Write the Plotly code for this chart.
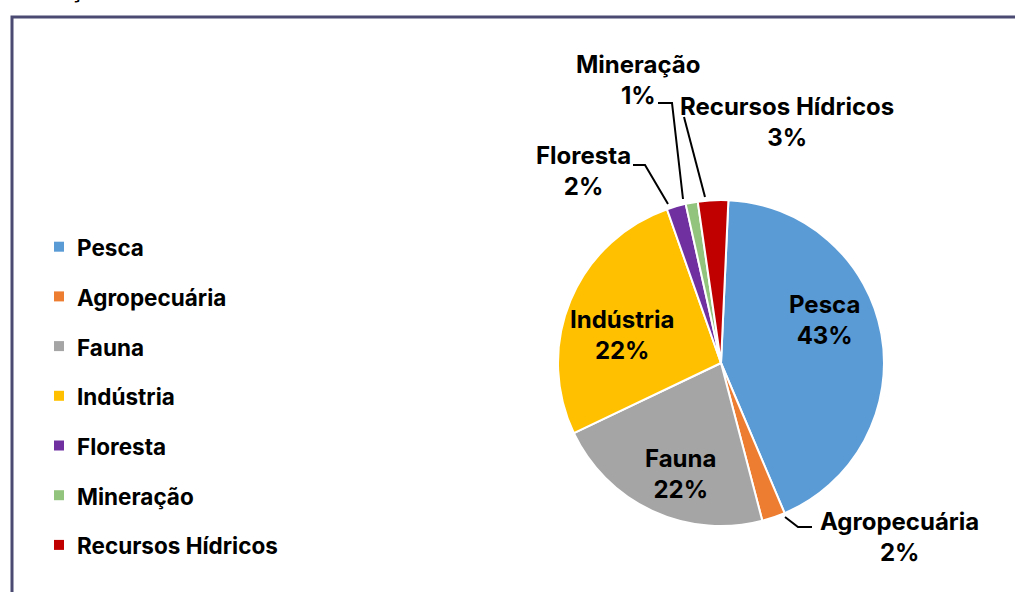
import plotly.graph_objects as go

# ---- data ----
categories = ["Pesca", "Agropecuária", "Fauna", "Indústria", "Floresta", "Mineração", "Recursos Hídricos"]
values = [42.9, 2.3, 22.0, 26.7, 1.9, 1.2, 3.0]
pct_labels = ["43%", "2%", "22%", "22%", "2%", "1%", "3%"]
colors = ["#5B9BD5", "#ED7D31", "#A5A5A5", "#FFC000", "#7030A0", "#93C47D", "#C00000"]

W, H = 1015, 592
FONT = "Inter"


def px(x):
    return x / W


def py(y):
    return 1 - y / H


# pie placement (pixels)
cx, cy, r = 721, 363, 163

fig = go.Figure()
fig.add_trace(go.Pie(
    labels=categories,
    values=values,
    sort=False,
    direction="clockwise",
    rotation=2.6,
    marker=dict(colors=colors, line=dict(color="white", width=2)),
    textinfo="none",
    hoverinfo="label+percent",
    showlegend=False,
    domain=dict(x=[px(cx - r), px(cx + r)], y=[py(cy + r), py(cy - r)]),
))

annotations = []
shapes = []

# frame
shapes.append(dict(type="rect", xref="paper", yref="paper",
                   x0=px(12), y0=py(17), x1=px(1060), y1=py(640),
                   line=dict(color="#4a4a72", width=3)))

# cropped title fragment
annotations.append(dict(text="ção", xref="paper", yref="paper", x=px(67), y=py(6),
                        xanchor="left", yanchor="bottom", showarrow=False,
                        font=dict(family=FONT, size=24, color="black", weight="bold")))

# legend (manual)
for i, (cat, col) in enumerate(zip(categories, colors)):
    yc = 246.7 + 49.7 * i
    shapes.append(dict(type="rect", xref="paper", yref="paper",
                       x0=px(54), x1=px(64), y0=py(yc + 5), y1=py(yc - 5),
                       fillcolor=col, line=dict(width=0)))
    annotations.append(dict(text=cat, xref="paper", yref="paper", x=px(75), y=py(yc + 1),
                            xanchor="left", yanchor="middle", showarrow=False,
                            font=dict(family=FONT, size=22.5, color="black", weight="bold")))

# data labels (pixel positions of label centres)
label_pos = {
    "Pesca": (824, 320),
    "Agropecuária": (899, 537),
    "Fauna": (680, 474),
    "Indústria": (622, 335),
    "Floresta": (583, 171),
    "Mineração": (638, 80),
    "Recursos Hídricos": (787, 122),
}
for cat, pct in zip(categories, pct_labels):
    x, y = label_pos[cat]
    annotations.append(dict(text=f"{cat}<br>{pct}", xref="paper", yref="paper",
                            x=px(x), y=py(y), xanchor="center", yanchor="middle",
                            showarrow=False, align="center",
                            font=dict(family=FONT, size=24, color="black", weight="bold")))

# leader lines
leaders = [
    [(633, 165), (645, 165), (668, 204)],
    [(658, 103), (672, 103), (683, 199)],
    [(684, 117), (705, 197)],
    [(785, 517), (798, 527), (812, 527)],
]
for pts in leaders:
    path = "M " + " L ".join(f"{px(a):.5f},{py(b):.5f}" for a, b in pts)
    shapes.append(dict(type="path", xref="paper", yref="paper", path=path,
                       line=dict(color="black", width=2)))

fig.update_layout(
    width=W, height=H,
    margin=dict(l=0, r=0, t=0, b=0),
    paper_bgcolor="white",
    plot_bgcolor="white",
    annotations=annotations,
    shapes=shapes,
)

fig.write_html("out.html", config={"displayModeBar": False},
               post_script="document.body.style.margin='0px';document.body.style.overflow='hidden';")
